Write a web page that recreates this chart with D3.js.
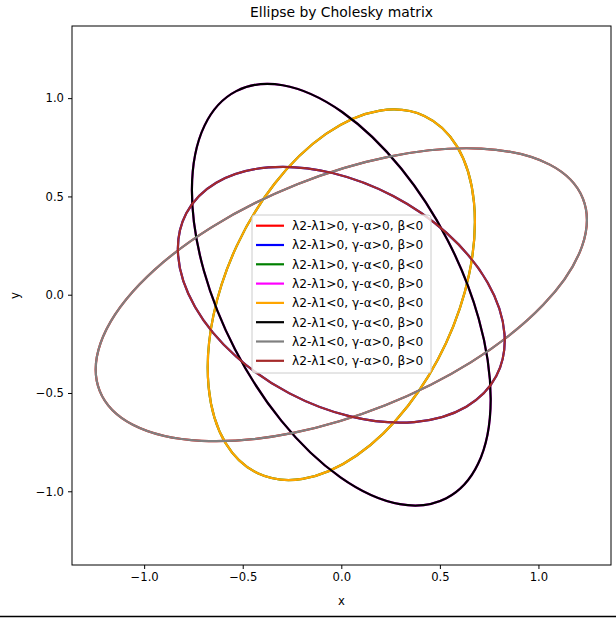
<!DOCTYPE html>
<html>
  <head>
    <meta charset="utf-8" />
    <title>Ellipse by Cholesky matrix</title>
    <script src="https://d3js.org/d3.v7.min.js"></script>
    <style>
      body { margin: 0; background: white; }
      text { font-family: "DejaVu Sans", sans-serif; fill: black; }
    </style>
  </head>
  <body>
    <svg width="616" height="618" id="chart"></svg>

    <script>
      // legend labels, one per ellipse
      var labels = [
        "λ2-λ1>0, γ-α>0, β<0",
        "λ2-λ1>0, γ-α>0, β>0",
        "λ2-λ1>0, γ-α<0, β<0",
        "λ2-λ1>0, γ-α<0, β>0",
        "λ2-λ1<0, γ-α<0, β<0",
        "λ2-λ1<0, γ-α<0, β>0",
        "λ2-λ1<0, γ-α>0, β<0",
        "λ2-λ1<0, γ-α>0, β>0"
      ];
      // ellipse parameters (data units / degrees)
      var centerX   = [0, 0, 0, 0, 0, 0, 0, 0];
      var centerY   = [0, 0, 0, 0, 0, 0, 0, 0];
      var semiMajor = [1.319, 0.888, 1.0, 1.162, 1.0, 1.162, 1.319, 0.888];
      var semiMinor = [0.605, 0.567, 0.587, 0.608, 0.587, 0.608, 0.605, 0.567];
      var angleDeg  = [21.7, -27.7, 65.1, 117.3, 65.1, 117.3, 21.7, -27.7];
      var xTicks = [-1.0, -0.5, 0.0, 0.5, 1.0];
      var yTicks = [-1.0, -0.5, 0.0, 0.5, 1.0];

      var colors = ["red", "blue", "green", "magenta", "orange", "black", "gray", "brown"];

      var svg = d3.select("#chart");
      // plot box (pixels); "top" is taken by window.top, so use a small object
      var box = {left: 72, right: 611, top: 26, bottom: 565};

      var x = d3.scaleLinear().domain([-1.366, 1.368]).range([box.left, box.right]);
      var y = d3.scaleLinear().domain([-1.375, 1.367]).range([box.bottom, box.top]);

      var data = labels.map(function(l, i) {
        return {label: l, color: colors[i], cx: centerX[i], cy: centerY[i],
                a: semiMajor[i], b: semiMinor[i], ang: angleDeg[i]};
      });

      //clip the ellipses to the axes box
      svg.append("clipPath").attr("id", "clip")
        .append("rect")
        .attr("x", box.left).attr("y", box.top)
        .attr("width", box.right - box.left).attr("height", box.bottom - box.top);

      svg.append("g").attr("clip-path", "url(#clip)")
        .selectAll("ellipse")
        .data(data)
        .enter().append("ellipse")
        .attr("cx", function(d){ return x(d.cx); })
        .attr("cy", function(d){ return y(d.cy); })
        .attr("rx", function(d){ return x(d.cx + d.a) - x(d.cx); })
        .attr("ry", function(d){ return y(d.cy) - y(d.cy + d.b); })
        .attr("transform", function(d){
          return "rotate(" + (-d.ang) + "," + x(d.cx) + "," + y(d.cy) + ")";
        })
        .attr("fill", "none")
        .attr("stroke", function(d){ return d.color; })
        .attr("stroke-width", 2.2);

      //axes
      var fmt = d3.format(".1f");
      var xAxis = svg.append("g")
        .attr("transform", "translate(0," + box.bottom + ")")
        .call(d3.axisBottom(x).tickValues(xTicks).tickFormat(fmt).tickSize(4).tickSizeOuter(0).tickPadding(4));
      var yAxis = svg.append("g")
        .attr("transform", "translate(" + box.left + ",0)")
        .call(d3.axisLeft(y).tickValues(yTicks).tickFormat(fmt).tickSize(4).tickSizeOuter(0).tickPadding(4));
      [xAxis, yAxis].forEach(function(g){
        g.select(".domain").remove();
        g.selectAll("text").attr("font-family", "DejaVu Sans").attr("font-size", "11.6px").attr("fill", "black");
        g.selectAll("line").attr("stroke", "black").attr("stroke-width", 1);
      });

      svg.append("rect")
        .attr("x", box.left).attr("y", box.top)
        .attr("width", box.right - box.left).attr("height", box.bottom - box.top)
        .attr("fill", "none").attr("stroke", "black").attr("stroke-width", 1);

      //labels and title
      svg.append("text")
        .attr("x", (box.left + box.right) / 2).attr("y", 605)
        .attr("text-anchor", "middle").attr("font-size", "11.6px")
        .text("x");
      svg.append("text")
        .attr("transform", "translate(19," + ((box.top + box.bottom) / 2) + ") rotate(-90)")
        .attr("text-anchor", "middle").attr("font-size", "11.6px")
        .text("y");
      svg.append("text")
        .attr("x", (box.left + box.right) / 2).attr("y", 17)
        .attr("text-anchor", "middle").attr("font-size", "13.9px")
        .text("Ellipse by Cholesky matrix");

      //legend
      var lg = svg.append("g");
      lg.append("rect")
        .attr("x", 252).attr("y", 215)
        .attr("width", 179).attr("height", 158)
        .attr("rx", 3)
        .attr("fill", "white").attr("fill-opacity", 0.8)
        .attr("stroke", "#cccccc").attr("stroke-width", 1);
      var items = lg.selectAll("g.item")
        .data(data)
        .enter().append("g")
        .attr("class", "item")
        .attr("transform", function(d, i){ return "translate(0," + (225.7 + i * 19.3) + ")"; });
      items.append("line")
        .attr("x1", 256).attr("x2", 284)
        .attr("y1", 0).attr("y2", 0)
        .attr("stroke", function(d){ return d.color; })
        .attr("stroke-width", 2.2);
      items.append("text")
        .attr("x", 292).attr("y", 0)
        .attr("dy", "0.36em")
        .attr("font-size", "12.2px")
        .text(function(d){ return d.label; });

      //the line along the bottom of the picture
      svg.append("line")
        .attr("x1", 0).attr("x2", 616)
        .attr("y1", 616.5).attr("y2", 616.5)
        .attr("stroke", "black").attr("stroke-width", 1.5);
    </script>
  </body>
</html>
